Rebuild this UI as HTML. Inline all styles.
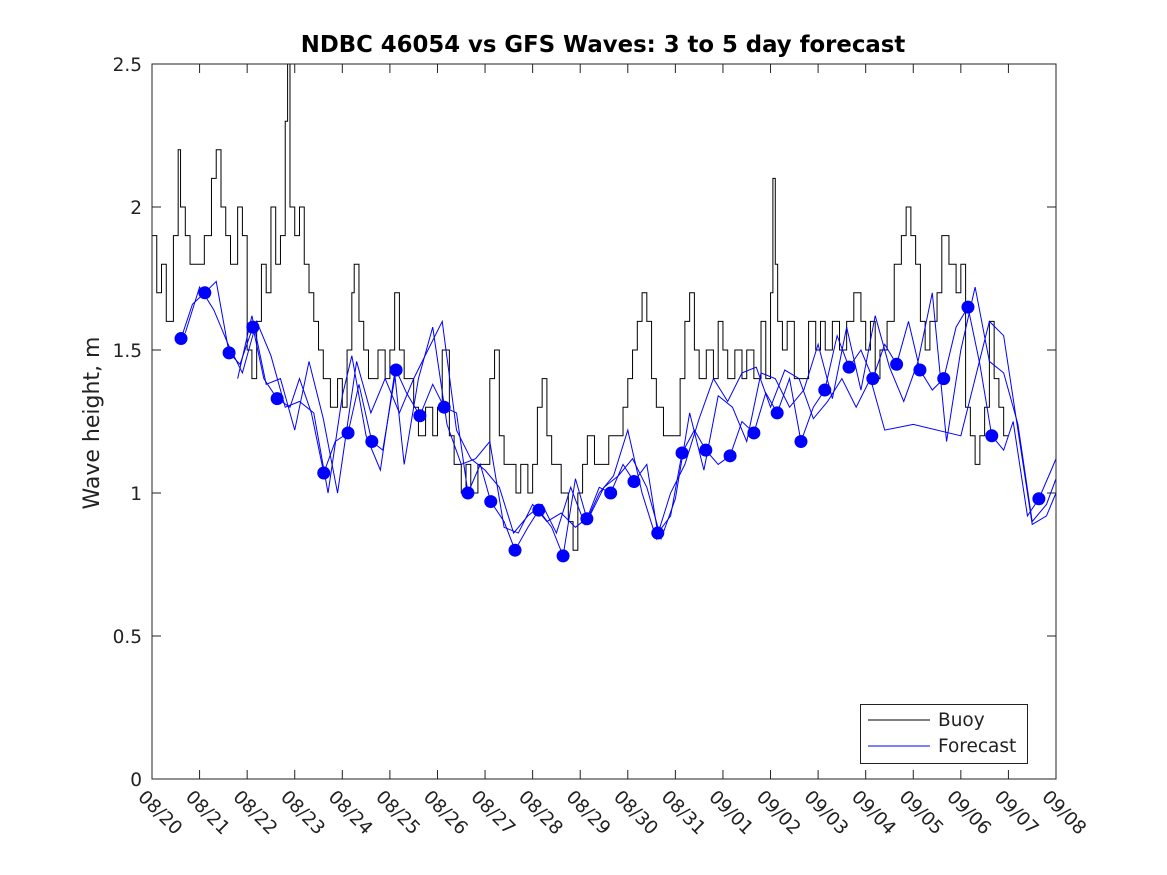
<!DOCTYPE html>
<html><head><meta charset="utf-8"><style>
html,body{margin:0;padding:0;background:#fff;}
svg{display:block;font-family:"DejaVu Sans","Liberation Sans",sans-serif;}
</style></head><body>
<svg id="chart" width="1167" height="875" viewBox="0 0 1167 875">
<rect x="0" y="0" width="1167" height="875" fill="#fff"/>
<text x="603" y="52" text-anchor="middle" font-size="22.8" font-weight="bold">NDBC 46054 vs GFS Waves: 3 to 5 day forecast</text>
<text transform="translate(99,423) rotate(-90)" text-anchor="middle" font-size="22" fill="#222">Wave height, m</text>
<g id="ticks"></g>
<g id="series"></g>
<rect x="152" y="64" width="904" height="715" fill="none" stroke="#222" stroke-width="1"/>
<g>
<rect x="860.5" y="704.5" width="167" height="59" fill="#fff" stroke="#222"/>
<line x1="868" y1="720" x2="930" y2="720" stroke="#000"/>
<text x="938" y="726" font-size="18.5" fill="#222">Buoy</text>
<line x1="868" y1="746" x2="930" y2="746" stroke="#0000ff"/>
<text x="938" y="752" font-size="18.5" fill="#222">Forecast</text>
</g>
</svg>
<script>
const xTickLabels=["08/20","08/21","08/22","08/23","08/24","08/25","08/26","08/27","08/28","08/29","08/30","08/31","09/01","09/02","09/03","09/04","09/05","09/06","09/07","09/08"];
const yTickValues=[0,0.5,1,1.5,2,2.5];
const yTickLabels=["0","0.5","1","1.5","2","2.5"];
const buoyDays=[0,0.1,0.2,0.3,0.45,0.55,0.6,0.7,0.8,1.0,1.1,1.25,1.35,1.45,1.55,1.65,1.8,1.9,2.0,2.1,2.2,2.3,2.4,2.5,2.6,2.7,2.8,2.85,2.9,3.0,3.1,3.2,3.3,3.4,3.5,3.6,3.75,3.9,4.0,4.1,4.2,4.25,4.35,4.45,4.55,4.75,4.9,5.0,5.1,5.2,5.3,5.4,5.5,5.6,5.75,5.9,6.0,6.1,6.25,6.35,6.5,6.6,6.7,6.85,7.0,7.1,7.2,7.3,7.4,7.5,7.65,7.75,7.9,8.0,8.1,8.2,8.3,8.4,8.5,8.6,8.75,8.85,8.95,9.05,9.15,9.3,9.45,9.6,9.75,9.9,10.0,10.1,10.2,10.3,10.4,10.5,10.6,10.75,10.9,11.0,11.1,11.2,11.3,11.4,11.5,11.65,11.8,11.9,12.0,12.1,12.25,12.4,12.5,12.65,12.8,12.9,13.0,13.05,13.1,13.15,13.25,13.35,13.5,13.65,13.8,13.95,14.05,14.15,14.3,14.45,14.6,14.75,14.9,15.0,15.1,15.2,15.3,15.45,15.6,15.75,15.85,15.95,16.05,16.15,16.25,16.35,16.5,16.6,16.75,16.9,17.0,17.1,17.2,17.3,17.4,17.5,17.6,17.7,17.8,17.9,18.0,18.1,18.2,18.28];
const buoyValues=[1.9,1.7,1.8,1.6,1.9,2.2,2.0,1.9,1.8,1.8,1.9,2.1,2.2,2.0,1.9,1.8,2.0,1.9,1.5,1.4,1.6,1.8,1.7,2.0,1.8,1.9,2.3,2.5,2.0,1.9,2.0,1.8,1.7,1.6,1.5,1.4,1.3,1.4,1.3,1.5,1.7,1.8,1.6,1.5,1.4,1.5,1.4,1.5,1.7,1.5,1.4,1.4,1.3,1.2,1.3,1.2,1.3,1.5,1.2,1.1,1.0,1.1,1.0,1.1,1.1,1.4,1.5,1.2,1.1,1.1,1.0,1.1,1.0,1.1,1.3,1.4,1.2,1.1,1.1,1.0,0.9,0.8,1.0,1.1,1.2,1.1,1.1,1.2,1.2,1.3,1.4,1.5,1.6,1.7,1.6,1.4,1.3,1.2,1.2,1.2,1.4,1.6,1.7,1.5,1.4,1.5,1.4,1.6,1.5,1.4,1.5,1.4,1.5,1.4,1.6,1.4,1.7,2.1,1.8,1.6,1.5,1.6,1.4,1.4,1.6,1.5,1.6,1.5,1.6,1.5,1.6,1.7,1.6,1.5,1.6,1.4,1.5,1.6,1.8,1.9,2.0,1.9,1.8,1.6,1.5,1.6,1.7,1.9,1.8,1.7,1.8,1.3,1.2,1.1,1.2,1.3,1.6,1.4,1.3,1.2];
const dotDays=[0.61,1.11,1.62,2.12,2.63,3.61,4.12,4.62,5.13,5.63,6.14,6.64,7.12,7.63,8.13,8.64,9.14,9.64,10.13,10.63,11.14,11.64,12.15,12.65,13.14,13.64,14.14,14.65,15.15,15.65,16.14,16.64,17.15,17.65,18.64];
const dotValues=[1.54,1.70,1.49,1.58,1.33,1.07,1.21,1.18,1.43,1.27,1.30,1.00,0.97,0.80,0.94,0.78,0.91,1.00,1.04,0.86,1.14,1.15,1.13,1.21,1.28,1.18,1.36,1.44,1.40,1.45,1.43,1.40,1.65,1.20,0.98];
const fcA_days=[0.61,0.85,1.11,1.35,1.62,1.85,2.12,2.35,2.63,2.9,3.1,3.35,3.61,3.85,4.12,4.35,4.62,4.85,5.13,5.35,5.63,5.9,6.14,6.4,6.64,6.9,7.12,7.4,7.63,7.9,8.13,8.4,8.64,8.9,9.14,9.4,9.64,9.9,10.13,10.4,10.63,10.9,11.14,11.4,11.64,11.9,12.15,12.4,12.65,12.9,13.14,13.4,13.64,13.9,14.14,14.4,14.65,14.9,15.15,15.4,15.65,15.9,16.14,16.4,16.64,16.9,17.15,17.4,17.65,17.9,18.1,18.4,18.64,18.9,19.0];
const fcA_vals=[1.54,1.66,1.70,1.74,1.49,1.45,1.58,1.40,1.33,1.30,1.40,1.28,1.07,1.18,1.21,1.38,1.18,1.15,1.43,1.35,1.27,1.38,1.30,1.28,1.00,1.10,0.97,0.90,0.80,0.88,0.94,0.88,0.78,1.05,0.91,1.02,1.00,1.10,1.04,1.10,0.86,0.92,1.14,1.22,1.15,1.10,1.13,1.25,1.21,1.35,1.28,1.40,1.18,1.30,1.36,1.55,1.44,1.50,1.40,1.52,1.45,1.60,1.43,1.36,1.40,1.58,1.65,1.45,1.20,1.15,1.25,0.92,0.98,1.08,1.12];
const fcB_days=[0.7,1.0,1.3,1.6,1.9,2.2,2.5,2.8,3.1,3.4,3.7,4.0,4.2,4.5,4.8,5.1,5.3,5.6,5.9,6.2,6.5,6.8,7.1,7.4,7.7,8.0,8.3,8.6,8.9,9.2,9.5,9.8,10.1,10.4,10.7,11.0,11.3,11.6,11.9,12.2,12.5,12.8,13.1,13.4,13.7,14.0,14.3,14.6,14.9,15.2,15.5,15.8,16.1,16.4,16.7,17.0,17.3,17.6,17.9,18.2,18.5,18.8,19.0];
const fcB_vals=[1.56,1.72,1.64,1.52,1.42,1.60,1.48,1.30,1.32,1.28,1.00,1.34,1.48,1.20,1.08,1.42,1.10,1.40,1.58,1.24,1.10,1.12,1.18,0.88,0.86,0.96,0.90,0.93,0.88,0.92,1.02,1.06,1.12,1.02,0.84,0.98,1.28,1.08,1.34,1.30,1.18,1.42,1.40,1.30,1.36,1.52,1.33,1.58,1.36,1.62,1.44,1.32,1.46,1.70,1.18,1.50,1.72,1.46,1.42,1.24,0.90,0.96,1.05];
const fcC_days=[1.8,2.1,2.4,2.7,3.0,3.3,3.6,3.9,4.3,4.6,4.9,5.2,5.5,5.8,6.1,6.4,6.7,7.0,7.3,7.6,7.9,8.2,8.5,8.8,9.1,9.4,9.7,10.0,10.3,10.6,10.9,11.2,11.5,11.8,12.1,12.4,12.7,13.0,13.3,13.6,13.9,14.2,14.5,14.8,15.1,15.4,16.0,17.0,17.6,17.9,18.2,18.5,18.8,19.0];
const fcC_vals=[1.40,1.62,1.38,1.40,1.22,1.46,1.26,1.00,1.46,1.28,1.40,1.28,1.40,1.50,1.60,1.22,1.12,1.08,1.02,0.86,0.92,0.96,0.86,1.02,0.89,1.00,1.06,1.22,1.00,0.84,1.00,1.10,1.26,1.40,1.32,1.42,1.44,1.30,1.43,1.40,1.26,1.32,1.40,1.30,1.40,1.22,1.24,1.20,1.60,1.55,1.22,0.89,0.92,1.00];
const x0=152,x1=1056,y0=779,y1=64,nDays=19,yMax=2.5;
function xs(d){return x0+(x1-x0)*d/nDays;}
function ys(v){return y0-(y0-y1)*v/yMax;}
const NS="http://www.w3.org/2000/svg";
const tg=document.getElementById('ticks'),sg=document.getElementById('series');
function mk(tag,attrs,parent){const e=document.createElementNS(NS,tag);for(const k in attrs)e.setAttribute(k,attrs[k]);parent.appendChild(e);return e;}
xTickLabels.forEach((lab,i)=>{const x=xs(i);
const t1=mk('line',{x1:x,y1:y0,x2:x,y2:y0-9,stroke:'#222'},tg);


const t2=mk('line',{x1:x,y1:y1,x2:x,y2:y1+9,stroke:'#222'},tg);


const tx=mk('text',{transform:`translate(${x-15},${y0+19}) rotate(45)`,'font-size':18.5,fill:'#222'},tg);
tx.textContent=lab;

});
yTickValues.forEach((v,i)=>{const y=ys(v);
const a=mk('line',{x1:x0,y1:y,x2:x0+9,y2:y,stroke:'#222'},tg);


const b=mk('line',{x1:x1,y1:y,x2:x1-9,y2:y,stroke:'#222'},tg);


const tx=mk('text',{x:x0-10,y:y+7,'text-anchor':'end','font-size':18.5,fill:'#222'},tg);
tx.textContent=yTickLabels[i];

});
let p='';buoyDays.forEach((d,i)=>{const x=xs(d),y=ys(buoyValues[i]);if(i===0)p+=`M${x},${y}`;else p+=`H${x}V${y}`;});
const bl=mk('path',{d:p,fill:'none',stroke:'#000','stroke-width':1},sg);


function line(days,vals,name){const pts=days.map((d,i)=>xs(d)+','+ys(vals[i])).join(' ');
const l=mk('polyline',{points:pts,fill:'none',stroke:'#0000ff','stroke-width':1},sg);

}
line(fcA_days,fcA_vals,'forecast-line-a');
line(fcB_days,fcB_vals,'forecast-line-b');
line(fcC_days,fcC_vals,'forecast-line-c');
dotDays.forEach((d,i)=>{const c=mk('circle',{cx:xs(d),cy:ys(dotValues[i]),r:6.5,fill:'#0000ff'},sg);

});
</script>
</body></html>
